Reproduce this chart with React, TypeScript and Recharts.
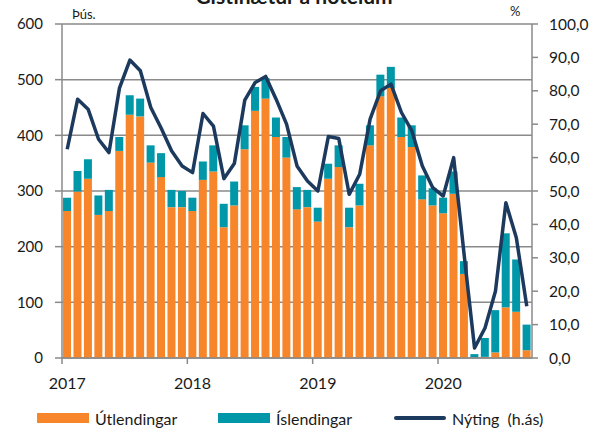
import { ComposedChart, Bar, Line, XAxis, YAxis, CartesianGrid } from 'recharts';

// Gistinætur á hótelum, monthly Jan 2017 - Sep 2020 (thousands) + occupancy %
const months = [
  '2017-01', '2017-02', '2017-03', '2017-04', '2017-05', '2017-06', '2017-07', '2017-08', '2017-09', '2017-10', '2017-11', '2017-12',
  '2018-01', '2018-02', '2018-03', '2018-04', '2018-05', '2018-06', '2018-07', '2018-08', '2018-09', '2018-10', '2018-11', '2018-12',
  '2019-01', '2019-02', '2019-03', '2019-04', '2019-05', '2019-06', '2019-07', '2019-08', '2019-09', '2019-10', '2019-11', '2019-12',
  '2020-01', '2020-02', '2020-03', '2020-04', '2020-05', '2020-06', '2020-07', '2020-08', '2020-09',
];

const utlendingar = [
  264, 299, 322, 257, 264, 372, 437, 434, 351, 325, 271, 271,
  264, 320, 335, 235, 274, 375, 444, 466, 397, 360, 267, 271,
  245, 322, 343, 235, 274, 382, 470, 485, 397, 379, 285, 274,
  260, 295, 151, 1, 2, 10, 91, 83, 14,
];

const islendingar = [
  24, 37, 35, 35, 38, 25, 35, 32, 31, 43, 31, 29,
  24, 33, 47, 42, 43, 43, 43, 37, 35, 37, 40, 31,
  25, 27, 39, 35, 39, 36, 39, 38, 35, 39, 43, 31,
  28, 40, 23, 6, 34, 76, 133, 94, 46,
];

const nyting = [
  62.5, 77.5, 74.5, 65.5, 61.5, 80.8, 89.2, 86, 75, 68.8, 62, 57.5,
  55.5, 73.2, 69.4, 53.7, 58.2, 77.2, 82.5, 84.3, 77.5, 70, 57.5, 53,
  50, 66.3, 65.7, 49, 55, 71.5, 80, 82, 73.5, 68, 57.5, 51,
  48.5, 60, 31, 3, 9, 20, 46.5, 36, 15.5,
];

const leftTicks = [0, 100, 200, 300, 400, 500, 600];
const rightTicks = [0, 10, 20, 30, 40, 50, 60, 70, 80, 90, 100];

const data = months.map((m, i) => ({
  month: m,
  utl: utlendingar[i],
  isl: islendingar[i],
  nyt: nyting[i],
}));

const ORANGE = '#F7862A';
const TEAL = '#0097A9';
const NAVY = '#1C3A5E';
const AXIS = '#8a8a8a';
const FONT = 'Lato, "Liberation Sans", sans-serif';

const PLOT_LEFT = 62;
const PLOT_RIGHT = 532;

const YearTick = (props: any) => {
  const { x, y, payload } = props;
  const half = (PLOT_RIGHT - PLOT_LEFT) / months.length / 2;
  return (
    <g>
      <line x1={x - half} x2={x - half} y1={y} y2={y + 6} stroke={AXIS} strokeWidth={1.5} />
      <text x={x} y={y + 31} textAnchor="middle" fill="#1a1a1a" fontSize={16} fontFamily={FONT}>
        {String(payload.value).slice(0, 4)}
      </text>
    </g>
  );
};

const legendItems = [
  { label: 'Útlendingar', color: ORANGE, kind: 'bar', left: 37 },
  { label: 'Íslendingar', color: TEAL, kind: 'bar', left: 218 },
  { label: 'Nýting  (h.ás)', color: NAVY, kind: 'line', left: 394 },
];

export default function App() {
  return (
    <div style={{ position: 'absolute', left: 0, top: 0, width: 598, height: 430, background: '#fff', overflow: 'hidden', fontFamily: FONT }}>
      <ComposedChart
        width={598}
        height={430}
        data={data}
        margin={{ top: 24, right: 0, bottom: 42, left: 0 }}
        barCategoryGap="10%"
      >
        <CartesianGrid yAxisId="left" vertical={false} horizontal stroke={AXIS} strokeWidth={1.5} />
        <XAxis
          dataKey="month"
          interval={11}
          tickLine={false}
          tickSize={0}
          tickMargin={0}
          height={30}
          axisLine={{ stroke: AXIS, strokeWidth: 1.5 }}
          tick={<YearTick />}
        />
        <YAxis
          yAxisId="left"
          domain={[0, 600]}
          ticks={leftTicks}
          width={62}
          tickSize={7}
          tickMargin={12}
          axisLine={{ stroke: AXIS, strokeWidth: 1.5 }}
          tickLine={{ stroke: AXIS, strokeWidth: 1.5 }}
          tick={{ fill: '#1a1a1a', fontSize: 15, fontFamily: FONT }}
        />
        <YAxis
          yAxisId="right"
          orientation="right"
          domain={[0, 100]}
          ticks={rightTicks}
          width={66}
          tickSize={6}
          tickMargin={11}
          tickFormatter={(v: number) => v.toFixed(1).replace('.', ',')}
          axisLine={{ stroke: AXIS, strokeWidth: 1.5 }}
          tickLine={{ stroke: AXIS, strokeWidth: 1.5 }}
          tick={{ fill: '#1a1a1a', fontSize: 15.5, fontFamily: FONT }}
        />
        <Bar yAxisId="left" dataKey="utl" stackId="a" fill={ORANGE} isAnimationActive={false} />
        <Bar yAxisId="left" dataKey="isl" stackId="a" fill={TEAL} isAnimationActive={false} />
        <Line
          yAxisId="right"
          dataKey="nyt"
          type="linear"
          stroke={NAVY}
          strokeWidth={3.5}
          strokeLinejoin="round"
          dot={false}
          isAnimationActive={false}
        />
      </ComposedChart>

      <svg width={598} height={430} style={{ position: 'absolute', left: 0, top: 0, pointerEvents: 'none' }}>
        <text x={294} y={4} textAnchor="middle" fontSize={21} fontWeight="bold" fill="#1a1a1a" fontFamily={FONT}>
          Gistinætur á hótelum
        </text>
        <text x={72} y={19} fontSize={13} fill="#1a1a1a" fontFamily={FONT}>Þús.</text>
        <text x={510} y={16} fontSize={13} fill="#1a1a1a" fontFamily={FONT}>%</text>
      </svg>

      {legendItems.map((item) => (
        <div
          key={item.label}
          style={{ position: 'absolute', left: item.left, top: 406, display: 'flex', alignItems: 'center', height: 24 }}
        >
          <div
            style={{
              width: 52,
              height: item.kind === 'bar' ? 10 : 4,
              background: item.color,
              borderRadius: item.kind === 'line' ? 2 : 0,
              marginRight: 6,
            }}
          />
          <span style={{ fontSize: 16, color: '#1a1a1a', whiteSpace: 'pre' }}>{item.label}</span>
        </div>
      ))}
    </div>
  );
}
